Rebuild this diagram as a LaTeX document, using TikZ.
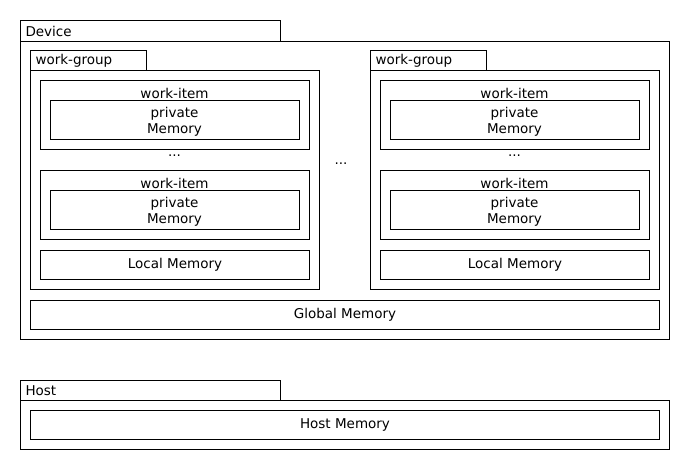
\documentclass[tikz,border=0pt]{standalone}
\usepackage{fontspec}
\setmainfont{DejaVu Sans}

\begin{document}
\begin{tikzpicture}[x=1pt,y=-1pt,
  txt/.style={font=\fontsize{13.5}{16}\selectfont},
  box/.style={draw, line width=1pt, anchor=north west, inner sep=0pt, txt},
  tab/.style={box, text width=#1, inner xsep=5pt, align=left}]

\useasboundingbox (0,0) rectangle (690,470);

% Device with its tab
\node[tab=250pt, minimum height=21pt] (dev-tab) at (20,20) {Device};
\node[box, minimum width=649pt, minimum height=298pt] (dev) at (20,41) {};

% Two work-groups
\foreach \g/\dx in {1/0, 2/340} {
  \node[tab=106pt, minimum height=20pt] (wg\g-tab) at ({30+\dx},50) {work-group};
  \node[box, minimum width=289pt, minimum height=219pt] (wg\g) at ({30+\dx},70) {};
  % work-items with private memory
  \foreach \i/\dy in {1/0, 2/90} {
    \node[box, minimum width=269pt, minimum height=69pt] (wi\g\i) at ({40+\dx},{80+\dy}) {};
    \node[txt] (wi\g\i-lbl) at ({174.5+\dx},{93+\dy}) {work-item};
    \node[box, minimum width=249pt, minimum height=39pt] (pm\g\i) at ({50+\dx},{100+\dy}) {};
    \node[txt, align=center] (pm\g\i-lbl) at ({174.5+\dx},{122+\dy}) {private\\Memory};
  }
  \node[txt] (wi\g-dots) at ({174.5+\dx},156) {...};
  % local memory
  \node[box, minimum width=269pt, minimum height=29pt] (lm\g) at ({40+\dx},250) {Local Memory};
}

\node[txt] (wg-dots) at (341,164) {...};

% Global memory
\node[box, minimum width=629pt, minimum height=29pt] (gm) at (30,300) {Global Memory};

% Host
\node[tab=250pt, minimum height=20pt] (host-tab) at (20,380) {Host};
\node[box, minimum width=649pt, minimum height=49pt] (host) at (20,400) {};
\node[box, minimum width=629pt, minimum height=29pt] (hm) at (30,410) {Host Memory};

\end{tikzpicture}
\end{document}
